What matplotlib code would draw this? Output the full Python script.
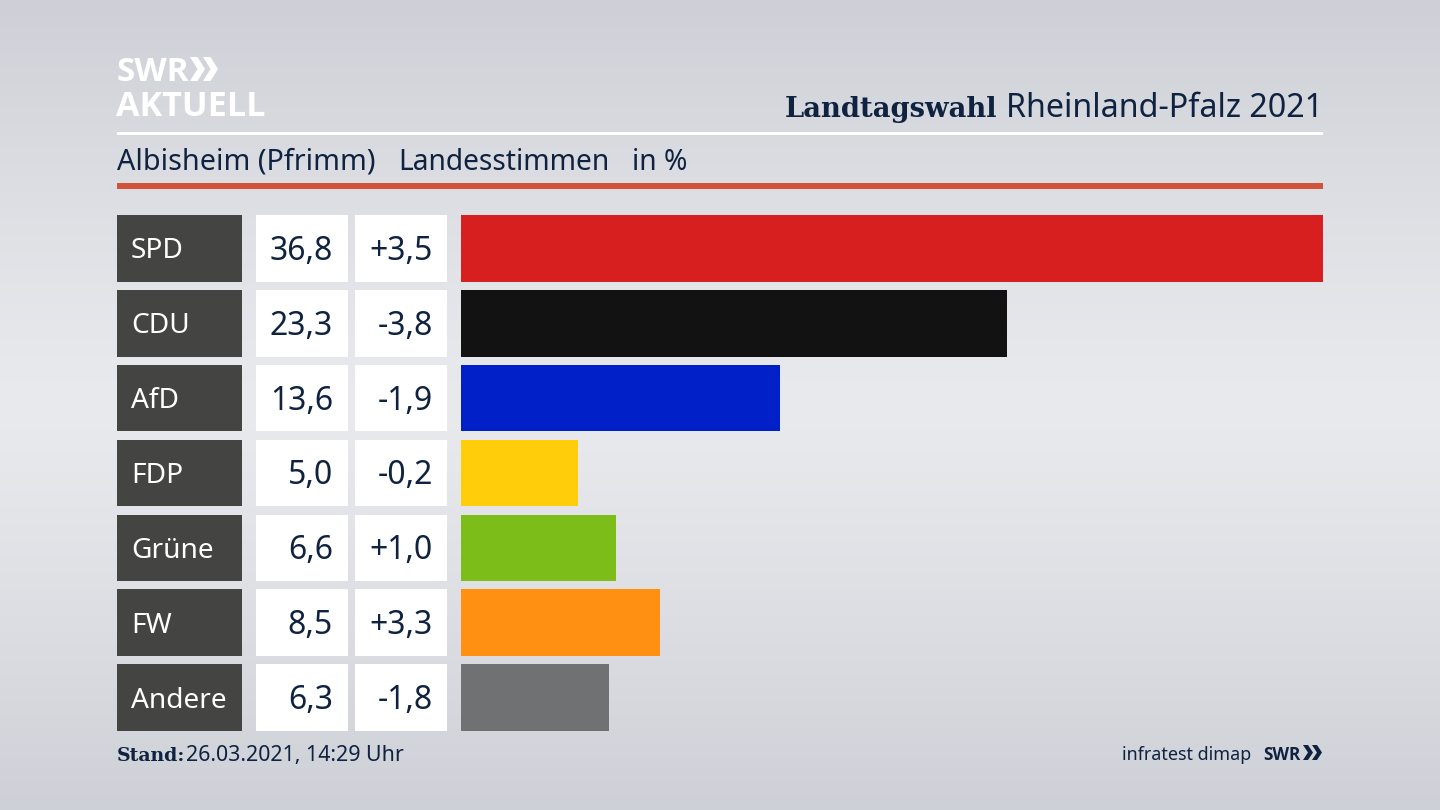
import numpy as np
import matplotlib
matplotlib.use("Agg")
import matplotlib.pyplot as plt
from matplotlib.patches import Rectangle, Polygon

parties = ["SPD", "CDU", "AfD", "FDP", "Grüne", "FW", "Andere"]
shares = [36.8, 23.3, 13.6, 5.0, 6.6, 8.5, 6.3]
changes = ["+3,5", "-3,8", "-1,9", "-0,2", "+1,0", "+3,3", "-1,8"]
colors = ["#d81f1f", "#121212", "#0120c8", "#ffcd0a", "#7cbd1a", "#ff9012", "#707173"]

NAVY = "#0f2240"
W, H = 1440, 810
plt.rcParams["font.family"] = ["Noto Sans", "DejaVu Sans"]
fig = plt.figure(figsize=(14.4, 8.1), dpi=100)

# page layer in pixel coordinates
bg = fig.add_axes([0, 0, 1, 1])
bg.set_xlim(0, W); bg.set_ylim(H, 0); bg.axis("off")
t = np.abs(np.linspace(-1, 1, 256))
c0 = np.array([0xe9, 0xea, 0xee]); c1 = np.array([0xcd, 0xd0, 0xd6])
grad = (c0 + (c1 - c0) * t[:, None] ** 1.2) / 255
bg.imshow(grad[:, None, :], extent=[0, W, H, 0], aspect="auto", zorder=0)

bg.add_patch(Rectangle((117, 132), 1206, 3, color="white", zorder=1, lw=0))
bg.add_patch(Rectangle((117, 183), 1206, 6, color="#cf5239", zorder=1, lw=0))

def chevrons(x, y, h, w, color, gap):
    for dx in (0, gap):
        bg.add_patch(Polygon([(x+dx, y), (x+dx+w*0.5, y), (x+dx+w, y+h/2), (x+dx+w*0.5, y+h),
                              (x+dx, y+h), (x+dx+w*0.5, y+h/2)], closed=True, color=color, lw=0, zorder=2))

# logo
bg.text(117, 81, "SWR", color="white", fontsize=24, fontweight="bold", va="baseline", ha="left", family="Open Sans")
chevrons(190, 57, 24, 15, "white", 13)
bg.text(116, 116, "AKTUELL", color="white", fontsize=24.6, fontweight="bold", va="baseline", ha="left", family="Open Sans")

# header
bg.text(1323, 117, "Rheinland-Pfalz 2021", color=NAVY, fontsize=23.2, ha="right", va="baseline")
bg.text(997, 117, "Landtagswahl", color=NAVY, fontsize=19.7, fontweight="bold", ha="right", va="baseline", family="DejaVu Serif")
bg.text(117, 170, "Albisheim (Pfrimm)", color=NAVY, fontsize=20.7, ha="left", va="baseline")
bg.text(398, 170, "Landesstimmen", color=NAVY, fontsize=20.3, ha="left", va="baseline")
bg.text(632, 170, "in %", color=NAVY, fontsize=20.3, ha="left", va="baseline")

# table cells
pitch = 524 / 7
for i, (p, s, d) in enumerate(zip(parties, shares, changes)):
    cy = 211 + pitch * (i + .5)
    top, h = cy - 33.3, 66.6
    bg.add_patch(Rectangle((117, top), 124.5, h, color="#444442", lw=0, zorder=1))
    bg.add_patch(Rectangle((256, top), 92, h, color="white", lw=0, zorder=1))
    bg.add_patch(Rectangle((355, top), 92, h, color="white", lw=0, zorder=1))
    bg.text(131, cy + 10, p, color="white", fontsize=20.2, ha="left", va="baseline")
    bg.text(333, cy + 11.5, f"{s:.1f}".replace(".", ","), color=NAVY, fontsize=23, ha="right", va="baseline")
    bg.text(433, cy + 11.5, d, color=NAVY, fontsize=23, ha="right", va="baseline")

# footer
bg.text(117, 761, "Stand:", color=NAVY, fontsize=13.6, fontweight="bold", ha="left", va="baseline", family="DejaVu Serif")
bg.text(186, 761, "26.03.2021, 14:29 Uhr", color=NAVY, fontsize=15.4, ha="left", va="baseline")
bg.text(1251, 760, "infratest dimap", color=NAVY, fontsize=12.9, ha="right", va="baseline")
bg.text(1263, 760, "SWR", color=NAVY, fontsize=12.4, fontweight="bold", ha="left", va="baseline", family="Open Sans")
chevrons(1303, 745, 15, 10, NAVY, 9)

# bars
ax = fig.add_axes([461 / W, 1 - 735 / H, (1323 - 461) / W, 524 / H])
ax.patch.set_alpha(0)
ax.barh(range(len(parties)), shares, height=66.6 / pitch, color=colors, linewidth=0)
ax.set_xlim(0, max(shares))
ax.set_ylim(len(parties) - .5, -.5)
ax.axis("off")

fig.savefig("out.png", dpi=100)
